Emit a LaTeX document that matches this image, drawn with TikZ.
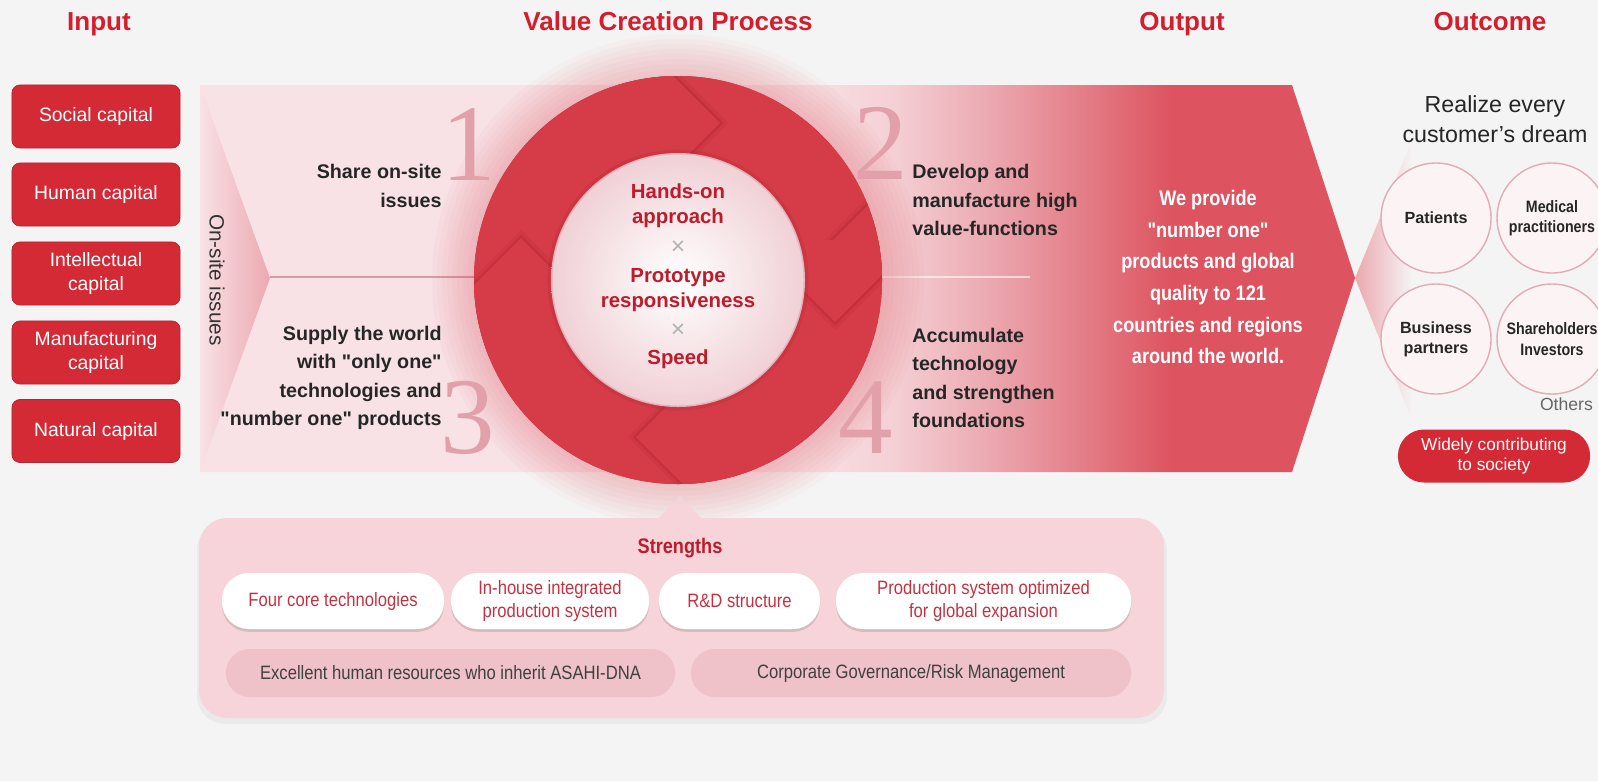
\documentclass[tikz,border=0pt]{standalone}
\usepackage{fontspec}
\setmainfont{Liberation Sans}
\newfontfamily\plainsans{Liberation Sans}
\newfontfamily\narrowfont[FakeStretch=0.86]{Liberation Sans}
\newfontfamily\numfont{Liberation Serif}
\usetikzlibrary{positioning,shadows}

\definecolor{bgc}{RGB}{245,244,244}
\definecolor{titlered}{RGB}{212,30,45}
\definecolor{boxred}{RGB}{212,42,54}
\definecolor{bandlight}{RGB}{248,226,229}
\definecolor{bandpale}{RGB}{244,208,213}
\definecolor{bandmid}{RGB}{236,170,178}
\definecolor{bandrose}{RGB}{228,128,138}
\definecolor{bandred}{RGB}{221,84,96}
\definecolor{chevpink}{RGB}{236,168,177}
\definecolor{ringred}{RGB}{214,60,72}
\definecolor{ringdark}{RGB}{150,20,32}
\definecolor{innerpink}{RGB}{240,208,213}
\definecolor{numpink}{RGB}{226,160,170}
\definecolor{deepred}{RGB}{190,28,44}
\definecolor{strbox}{RGB}{246,212,217}
\definecolor{basepink}{RGB}{239,193,200}
\definecolor{pilltext}{RGB}{196,50,66}
\definecolor{partyline}{RGB}{226,172,180}
\definecolor{partyfill}{RGB}{252,243,244}

\pgfdeclarehorizontalshading{bandshade}{100bp}{color(0bp)=(bandlight); color(51bp)=(bandlight);
  color(55bp)=(bandpale); color(59bp)=(bandmid); color(63bp)=(bandrose); color(67bp)=(bandred);
  color(100bp)=(bandred)}

\begin{document}
\begin{tikzpicture}[x=0.01cm,y=-0.01cm,
  title/.style={anchor=base, font=\bfseries\fontsize{7.4}{9}\selectfont, text=titlered},
  capbox/.style={draw=boxred!85!black, line width=0.2pt, fill=boxred, text=white,
    rounded corners=0.08cm, minimum width=1.68cm, minimum height=0.63cm,
    align=center, inner sep=1pt, font=\fontsize{5.5}{7}\selectfont},
  proctext/.style={font=\plainsans\bfseries\fontsize{5.6}{8.1}\selectfont, text=black!85},
  bignum/.style={font=\numfont\fontsize{31}{31}\selectfont, text=numpink, inner sep=0pt},
  core/.style={font=\bfseries\fontsize{5.8}{7}\selectfont, text=deepred, align=center},
  cross/.style={font=\fontsize{7}{7}\selectfont, text=black!30},
  outtext/.style={font=\narrowfont\bfseries\fontsize{6}{9}\selectfont, text=white, align=center},
  dreamtext/.style={font=\fontsize{6.6}{8.7}\selectfont, text=black!85, align=center},
  party/.style={circle, draw=partyline, line width=0.4pt, fill=partyfill, minimum size=1.1cm,
    inner sep=0pt, align=center, text=black!85, font=\bfseries\fontsize{4.6}{5.7}\selectfont},
  society/.style={fill=boxred, rounded corners=0.26cm, minimum width=1.92cm, minimum height=0.53cm,
    inner sep=0pt, align=center, text=white, font=\fontsize{4.9}{5.5}\selectfont},
  pill/.style={fill=white, rounded corners=0.27cm, minimum height=0.56cm, inner sep=0pt,
    align=center, text=pilltext, font=\narrowfont\fontsize{5.5}{6.6}\selectfont,
    drop shadow={shadow xshift=0pt, shadow yshift=-0.8pt, opacity=0.12, fill=black}},
  basepill/.style={fill=basepink, rounded corners=0.24cm, minimum height=0.48cm, inner sep=0pt,
    text=black!75, font=\narrowfont\fontsize{5.5}{6.6}\selectfont}
]
\useasboundingbox (0,0) rectangle (1598,781);
\fill[bgc] (0,0) rectangle (1598,781);

% headings
\node[title] (tinput) at (99,30) {Input};
\node[title] (tvalue) at (668,30) {Value Creation Process};
\node[title] (toutput) at (1182,30) {Output};
\node[title] (toutcome) at (1490,30) {Outcome};

% input column
\node[capbox] (social) at (96,116.5) {Social capital};
\node[capbox] (human) at (96,194.5) {Human capital};
\node[capbox] (intel) at (96,273.5) {Intellectual\\capital};
\node[capbox] (manuf) at (96,352.5) {Manufacturing\\capital};
\node[capbox] (natural) at (96,431) {Natural capital};

% process band and arrow
\shade[shading=bandshade] (200,85) -- (1292,85) -- (1355,278) -- (1292,472) -- (200,472) -- cycle;
\shade[left color=bandlight, right color=chevpink] (200,85) -- (270,278) -- (200,472) -- cycle;
\node[rotate=-90, font=\fontsize{5.9}{7}\selectfont, text=black!80] (onsite) at (217,280) {On-site issues};
\draw[line width=0.35pt, color=black!8!bandmid] (270,277) -- (480,277);
\draw[line width=0.35pt, color=white, opacity=0.6] (875,277) -- (1030,277);

% ring
\foreach \r in {206,211,...,246}
  \fill[ringred, opacity=0.03] (678,280) circle (\r);
\begin{scope}[shift={(678,280)}]
  \clip (0,0) circle (204);
  \fill[ringred] (0,0) circle (204);
  \foreach \ax/\ay/\bx/\by/\cx/\cy/\dx/\dy/\sx/\sy in {
      157/42/417/-218/157/-478/-103/-218/0/1,
      42/-157/-218/-417/-478/-157/-218/103/1/0,
      -157/-42/-417/218/-157/478/103/218/0/-1,
      -42/157/218/417/478/157/218/-103/-1/0}{
    \fill[ringdark, opacity=0.12, shift={(8*\sx,8*\sy)}] (\ax,\ay) -- (\bx,\by) -- (\cx,\cy) -- (\dx,\dy) -- cycle;
    \fill[ringdark, opacity=0.18, shift={(3*\sx,3*\sy)}] (\ax,\ay) -- (\bx,\by) -- (\cx,\cy) -- (\dx,\dy) -- cycle;
    \fill[ringred] (\ax,\ay) -- (\bx,\by) -- (\cx,\cy) -- (\dx,\dy) -- cycle;
  }
  \begin{scope}
    \clip (0,-40) rectangle (260,260);
    \fill[ringdark, opacity=0.12] (157,50) -- (417,-210) -- (157,-470) -- (-103,-210) -- cycle;
    \fill[ringdark, opacity=0.18] (157,45) -- (417,-215) -- (157,-475) -- (-103,-215) -- cycle;
    \fill[ringred] (157,42) -- (417,-218) -- (157,-478) -- (-103,-218) -- cycle;
  \end{scope}
\end{scope}
\shade[inner color=white, outer color=innerpink] (678,280) circle (127);
\draw[ringdark, opacity=0.15, line width=0.05cm] (678,280) circle (128);

\node[core] (hands) at (678,206) {Hands-on\\approach};
\node[cross] (x1) at (678,248) {×};
\node[core] (proto) at (678,290) {Prototype\\responsiveness};
\node[cross] (x2) at (678,331) {×};
\node[core] (speed) at (678,359) {Speed};

% step numbers and texts
\node[bignum] (n1) at (469,145) {1};
\node[bignum] (n2) at (881,143) {2};
\node[bignum] (n3) at (468,418) {3};
\node[bignum] (n4) at (866,418) {4};
\node[proctext, anchor=east, align=right] (share) at (454,186) {Share on-site\\issues};
\node[proctext, anchor=east, align=right] (supply) at (454,378) {Supply the world\\with "only one"\\technologies and\\"number one" products};
\node[proctext, anchor=west, align=left] (develop) at (900,200) {Develop and\\manufacture high\\value-functions};
\node[proctext, anchor=west, align=left] (accum) at (900,378) {Accumulate\\technology\\and strengthen\\foundations};

% output
\node[outtext] (provide) at (1208,277) {We provide\\"number one"\\products and global\\quality to 121\\countries and regions\\around the world.};

% outcome
\shade[left color=chevpink, right color=bgc] (1355,278) -- (1412,140) -- (1412,420) -- cycle;
\node[dreamtext] (dream) at (1495,119) {Realize every\\customer's dream};
\node[party] (patients) at (1436,218) {Patients};
\node[party, font=\narrowfont\bfseries\fontsize{4.7}{5.8}\selectfont] (medical) at (1552,218) {Medical\\practitioners};
\node[party] (business) at (1436,339) {Business\\partners};
\node[party, font=\narrowfont\bfseries\fontsize{4.7}{5.8}\selectfont] (holders) at (1552,339) {Shareholders\\Investors};
\node[anchor=east, font=\fontsize{5}{6}\selectfont, text=black!60, inner sep=1pt] (others) at (1597,404) {Others};
\node[society] (contrib) at (1494,456) {Widely contributing\\to society};

% strengths
\fill[black, opacity=0.04, rounded corners=0.28cm] (197,522) rectangle (1167,724);
\fill[strbox, rounded corners=0.28cm] (199,518) rectangle (1164,718);
\fill[strbox] (658,519) -- (680,496) -- (702,519) -- cycle;
\node[font=\narrowfont\bfseries\fontsize{6}{7}\selectfont, text=deepred] (strengths) at (680,548) {Strengths};
\node[pill, minimum width=2.22cm] (fourcore) at (333,601) {Four core technologies};
\node[pill, minimum width=1.98cm] (inhouse) at (550,601) {In-house integrated\\production system};
\node[pill, minimum width=1.61cm] (rnd) at (739.5,601) {R\&D structure};
\node[pill, minimum width=2.95cm] (prodsys) at (983.5,601) {Production system optimized\\for global expansion};
\node[basepill, minimum width=4.49cm] (asahi) at (450.5,673) {Excellent human resources who inherit ASAHI-DNA};
\node[basepill, minimum width=4.40cm] (governance) at (911,673) {Corporate Governance/Risk Management};
\end{tikzpicture}
\end{document}
